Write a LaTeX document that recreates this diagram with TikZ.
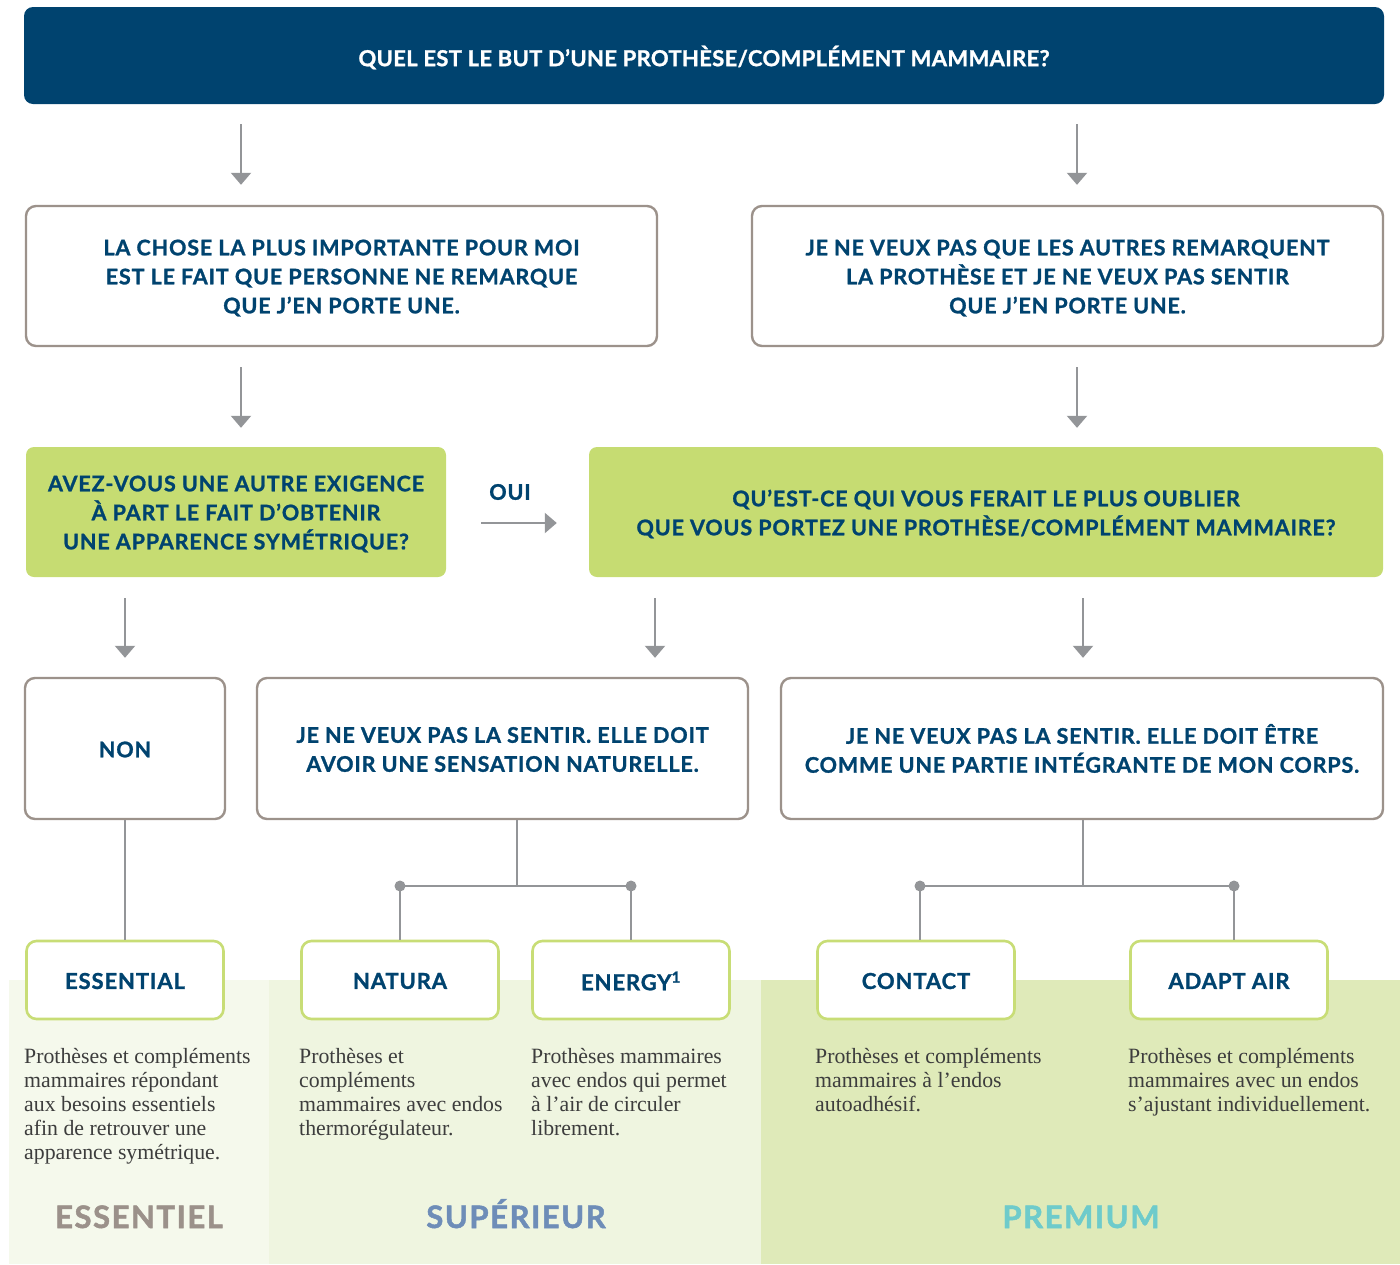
\documentclass[tikz,border=0pt]{standalone}
\usepackage{fontspec}
\setmainfont{Liberation Serif}
\newfontfamily\hd[LetterSpace=4, BoldFeatures={FakeBold=1.2}]{Lato}
\newfontfamily\hdt[LetterSpace=1.5, BoldFeatures={FakeBold=1.2}]{Lato}
\newfontfamily\ft[LetterSpace=5, BoldFeatures={FakeBold=1.5}]{Lato}
\usetikzlibrary{arrows.meta}
\definecolor{dkblue}{HTML}{00436F}
\definecolor{taupe}{HTML}{9C928B}
\definecolor{lgreen}{HTML}{C6DC72}
\definecolor{pgreen}{HTML}{C8DD76}
\definecolor{arrgrey}{HTML}{939598}
\definecolor{bodytxt}{HTML}{3D3D3D}
\definecolor{bandA}{HTML}{F5F9EC}
\definecolor{bandB}{HTML}{EFF5E0}
\definecolor{bandC}{HTML}{DFEAB9}
\definecolor{ftA}{HTML}{9B918A}
\definecolor{ftB}{HTML}{6E8DB8}
\definecolor{ftC}{HTML}{6ECBCB}
\tikzset{
  boxtxt/.style={font=\hd\bfseries\fontsize{21.5}{29}\selectfont, text=dkblue, align=center, inner sep=0pt},
  prodtxt/.style={font=\hd\bfseries\fontsize{22}{29}\selectfont, text=dkblue, inner sep=0pt},
  qbox/.style={draw=taupe, line width=2.4pt, rounded corners=10pt, fill=white},
  gbox/.style={fill=lgreen, rounded corners=8pt},
  pbox/.style={draw=pgreen, line width=2.6pt, rounded corners=10pt, fill=white, minimum width=197pt, minimum height=78pt},
  arr/.style={draw=arrgrey, line width=2.2pt, -{Triangle[width=20pt,length=12pt]}},
  conn/.style={draw=arrgrey, line width=2.6pt},
  dot/.style={circle, fill=arrgrey, inner sep=0pt, minimum size=11pt},
  desc/.style={font=\fontsize{21.8}{24}\selectfont, text=bodytxt, align=left, anchor=north west, inner sep=0pt},
  foot/.style={font=\ft\bfseries\fontsize{31}{34}\selectfont, anchor=base}
}
\begin{document}
\begin{tikzpicture}[x=1pt,y=-1pt]
\useasboundingbox (0,0) rectangle (1400,1264);
% bands
\fill[bandA] (9,980) rectangle (269,1264);
\fill[bandB] (269,980) rectangle (761,1264);
\fill[bandC] (761,980) rectangle (1400,1264);
% header
\node[fill=dkblue, rounded corners=9pt, minimum width=1360pt, minimum height=97pt] (top) at (704,55.5) {};
\node[text=white, font=\hdt\bfseries\fontsize{22}{24}\selectfont, inner sep=0pt] (toptxt) at ([yshift=-2pt]top.center)
      {QUEL EST LE BUT D’UNE PROTHÈSE/COMPLÉMENT MAMMAIRE?};
% question boxes
\node[qbox, minimum width=631pt, minimum height=140pt] (A) at (341.5,276) {};
\node[boxtxt] (Atxt) at ([yshift=-2pt]A.center)
  {LA CHOSE LA PLUS IMPORTANTE POUR MOI\\EST LE FAIT QUE PERSONNE NE REMARQUE\\QUE J’EN PORTE UNE.};
\node[qbox, minimum width=631pt, minimum height=140pt] (B) at (1067.5,276) {};
\node[boxtxt] (Btxt) at ([yshift=-2pt]B.center)
  {JE NE VEUX PAS QUE LES AUTRES REMARQUENT\\LA PROTHÈSE ET JE NE VEUX PAS SENTIR\\QUE J’EN PORTE UNE.};
\node[gbox, minimum width=420pt, minimum height=130pt] (C) at (236,512) {};
\node[boxtxt] (Ctxt) at ([yshift=-2pt]C.center)
  {AVEZ-VOUS UNE AUTRE EXIGENCE\\À PART LE FAIT D’OBTENIR\\UNE APPARENCE SYMÉTRIQUE?};
\node[gbox, minimum width=794pt, minimum height=130pt] (D) at (986,512) {};
\node[boxtxt] (Dtxt) at ([yshift=-2pt]D.center)
  {QU’EST-CE QUI VOUS FERAIT LE PLUS OUBLIER\\QUE VOUS PORTEZ UNE PROTHÈSE/COMPLÉMENT MAMMAIRE?};
\node[boxtxt] (oui) at (510,492) {OUI};
\node[qbox, minimum width=200pt, minimum height=141pt] (NON) at (125,748.5) {};
\node[boxtxt] (NONtxt) at ([yshift=-1pt]NON.center) {NON};
\node[qbox, minimum width=491pt, minimum height=141pt] (E) at (502.5,748.5) {};
\node[boxtxt] (Etxt) at ([yshift=-1pt]E.center)
  {JE NE VEUX PAS LA SENTIR. ELLE DOIT\\AVOIR UNE SENSATION NATURELLE.};
\node[qbox, minimum width=602pt, minimum height=141pt] (F) at (1082,748.5) {};
\node[boxtxt] (Ftxt) at (F.center)
  {JE NE VEUX PAS LA SENTIR. ELLE DOIT ÊTRE\\COMME UNE PARTIE INTÉGRANTE DE MON CORPS.};
% arrows
\draw[arr, shorten <=20pt, shorten >=20pt] (top.south -| 241,0) -- (A.north -| 241,0);
\draw[arr, shorten <=20pt, shorten >=20pt] (top.south -| 1077,0) -- (B.north -| 1077,0);
\draw[arr, shorten <=20pt, shorten >=19pt] (A.south -| 241,0) -- (C.north -| 241,0);
\draw[arr, shorten <=20pt, shorten >=19pt] (B.south -| 1077,0) -- (D.north -| 1077,0);
\draw[arr, shorten <=35pt, shorten >=32pt] (C.east |- 0,523) -- (D.west |- 0,523);
\draw[arr, shorten <=21pt, shorten >=19pt] (C.south -| 125,0) -- (NON.north -| 125,0);
\draw[arr, shorten <=21pt, shorten >=19pt] (D.south -| 655,0) -- (E.north -| 655,0);
\draw[arr, shorten <=21pt, shorten >=19pt] (D.south -| 1083,0) -- (F.north -| 1083,0);
% product boxes
\node[pbox] (ess) at (125,980) {};
\node[pbox] (nat) at (400,980) {};
\node[pbox] (ene) at (631,980) {};
\node[pbox] (con) at (916,980) {};
\node[pbox] (ada) at (1229,980) {};
\node[prodtxt] (esst) at ([yshift=-1pt]ess.center) {ESSENTIAL};
\node[prodtxt] (natt) at ([yshift=-1pt]nat.center) {NATURA};
\node[prodtxt] (enet) at ([yshift=-1pt]ene.center) {ENERGY\textsuperscript{1}};
\node[prodtxt] (cont) at ([yshift=-1pt]con.center) {CONTACT};
\node[prodtxt] (adat) at ([yshift=-1pt]ada.center) {ADAPT AIR};
% connectors
\coordinate (jE) at (517,886);
\coordinate (jF) at (1083,886);
\draw[conn] (NON.south) -- (ess.north);
\draw[conn] (E.south -| jE) -- (jE);
\draw[conn] (F.south -| jF) -- (jF);
\node[dot] (dN) at (400,886) {};
\node[dot] (dE) at (631,886) {};
\node[dot] (dC) at (920,886) {};
\node[dot] (dA) at (1234,886) {};
\draw[conn] (dN.center) -- (dE.center);
\draw[conn] (dC.center) -- (dA.center);
\draw[conn] (dN.center) -- (nat.north);
\draw[conn] (dE.center) -- (ene.north);
\draw[conn] (dC.center) -- (con.north -| dC);
\draw[conn] (dA.center) -- (ada.north -| dA);
% descriptions
\node[desc] (t1) at (24,1048) {Prothèses et compléments\\mammaires répondant\\aux besoins essentiels\\afin de retrouver une\\apparence symétrique.};
\node[desc] (t2) at (299,1048) {Prothèses et\\compléments\\mammaires avec endos\\thermorégulateur.};
\node[desc] (t3) at (531,1048) {Prothèses mammaires\\avec endos qui permet\\à l’air de circuler\\librement.};
\node[desc] (t4) at (815,1048) {Prothèses et compléments\\mammaires à l’endos\\autoadhésif.};
\node[desc] (t5) at (1128,1048) {Prothèses et compléments\\mammaires avec un endos\\s’ajustant individuellement.};
% footer labels
\node[foot, text=ftA] (fA) at (139,1228) {ESSENTIEL};
\node[foot, text=ftB] (fB) at (516,1228) {SUPÉRIEUR};
\node[foot, text=ftC] (fC) at (1081,1228) {PREMIUM};
\end{tikzpicture}
\end{document}
